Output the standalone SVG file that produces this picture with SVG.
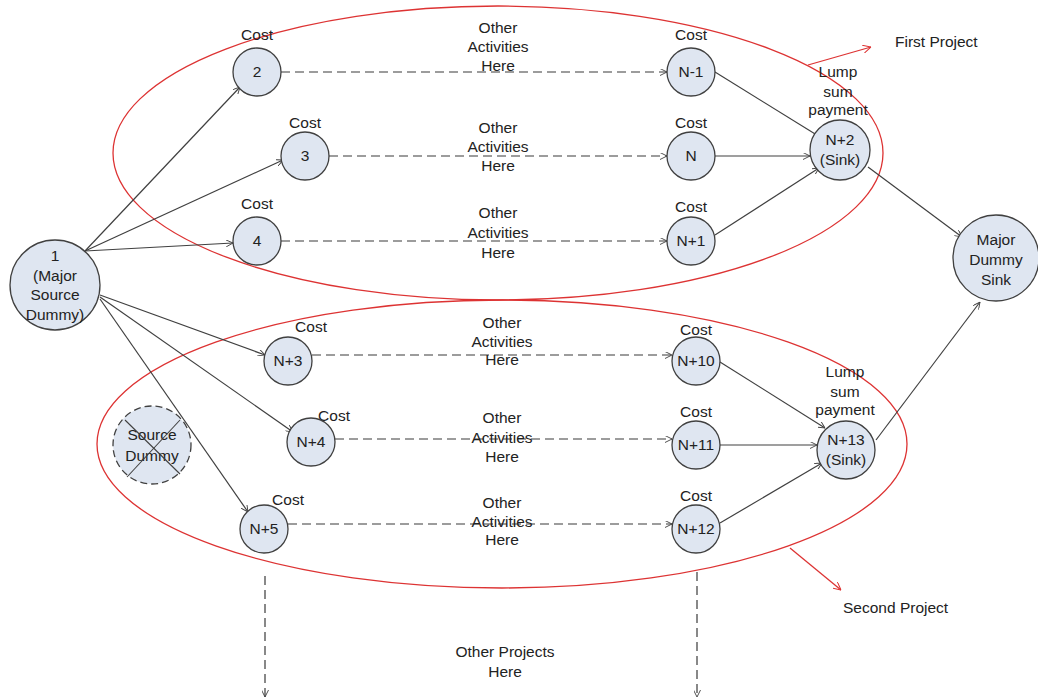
<svg xmlns="http://www.w3.org/2000/svg" width="1038" height="700" viewBox="0 0 1038 700">
<defs>
<marker id="arr" viewBox="0 0 10 10" refX="10" refY="5" markerWidth="7" markerHeight="7" orient="auto" markerUnits="userSpaceOnUse">
<path d="M0,0 L10,5 L0,10" fill="none" stroke="#404040" stroke-width="1.3"/>
</marker>
<marker id="arrR" viewBox="0 0 10 10" refX="10" refY="5" markerWidth="8" markerHeight="8" orient="auto" markerUnits="userSpaceOnUse">
<path d="M0,0 L10,5 L0,10" fill="none" stroke="#d33" stroke-width="1.3"/>
</marker>
</defs>
<style>
text{font-family:"Liberation Sans",Arial,sans-serif;font-size:15.5px;fill:#222;text-anchor:middle}
.n{fill:#dfe6f1;stroke:#404040;stroke-width:1.3}
.c{fill:none;stroke:#404040;stroke-width:1.2;marker-end:url(#arr)}
.d{fill:none;stroke:#3a3a3a;stroke-width:1.2;stroke-dasharray:9 5;marker-end:url(#arr)}
.r{fill:none;stroke:#d33;stroke-width:1.3}
.l{text-anchor:start}
</style>
<rect width="1038" height="700" fill="#fff"/>

<g id="projects">
<ellipse class="r" cx="498" cy="153" rx="385" ry="147"/>
<ellipse class="r" cx="502" cy="444" rx="405" ry="144"/>
<line class="r" x1="808" y1="65" x2="871" y2="47" marker-end="url(#arrR)"/>
<line class="r" x1="790" y1="548" x2="841" y2="590" marker-end="url(#arrR)"/>
<text class="l" x="895" y="47">First Project</text>
<text class="l" x="843" y="613">Second Project</text>
</g>

<g id="connectors">
<line class="c" x1="85" y1="251" x2="240" y2="87"/>
<line class="c" x1="85" y1="251" x2="283" y2="160"/>
<line class="c" x1="85" y1="251" x2="233" y2="243"/>
<line class="c" x1="100" y1="295" x2="265" y2="355"/>
<line class="c" x1="100" y1="297" x2="293" y2="432"/>
<line class="c" x1="100" y1="299" x2="248" y2="512"/>
<line class="d" x1="281" y1="72" x2="667" y2="72"/>
<line class="d" x1="329" y1="156" x2="667" y2="156"/>
<line class="d" x1="281" y1="241" x2="667" y2="241"/>
<line class="d" x1="312" y1="355" x2="672" y2="355"/>
<line class="d" x1="335" y1="439" x2="672" y2="439"/>
<line class="d" x1="288" y1="524" x2="672" y2="524"/>
<line class="c" x1="715" y1="72" x2="820" y2="137"/>
<line class="c" x1="715" y1="156" x2="810" y2="156"/>
<line class="c" x1="715" y1="235" x2="819" y2="168"/>
<line class="c" x1="868" y1="167" x2="962" y2="237"/>
<line class="c" x1="720" y1="362" x2="825" y2="428"/>
<line class="c" x1="720" y1="445" x2="817" y2="445"/>
<line class="c" x1="720" y1="523" x2="822" y2="463"/>
<line class="c" x1="876" y1="440" x2="980" y2="302"/>
<line class="d" x1="265" y1="576" x2="265" y2="697"/>
<line class="d" x1="697" y1="572" x2="697" y2="697"/>
</g>

<g id="labels">
<text x="257" y="40">Cost</text>
<text x="305" y="128">Cost</text>
<text x="257" y="209">Cost</text>
<text x="691" y="40">Cost</text>
<text x="691" y="128">Cost</text>
<text x="691" y="212">Cost</text>
<text x="311" y="332">Cost</text>
<text x="334" y="421">Cost</text>
<text x="288" y="505">Cost</text>
<text x="696" y="335">Cost</text>
<text x="696" y="417">Cost</text>
<text x="696" y="501">Cost</text>
<text x="498" y="33">Other</text><text x="498" y="52">Activities</text><text x="498" y="71">Here</text>
<text x="498" y="133">Other</text><text x="498" y="152">Activities</text><text x="498" y="171">Here</text>
<text x="498" y="218">Other</text><text x="498" y="238">Activities</text><text x="498" y="258">Here</text>
<text x="502" y="328">Other</text><text x="502" y="347">Activities</text><text x="502" y="365">Here</text>
<text x="502" y="423">Other</text><text x="502" y="443">Activities</text><text x="502" y="462">Here</text>
<text x="502" y="508">Other</text><text x="502" y="527">Activities</text><text x="502" y="545">Here</text>
<text x="838" y="77">Lump</text><text x="838" y="97">sum</text><text x="838" y="115">payment</text>
<text x="845" y="377">Lump</text><text x="845" y="397">sum</text><text x="845" y="415">payment</text>
<text x="505" y="657">Other Projects</text><text x="505" y="677">Here</text>
</g>

<g id="node1"><circle class="n" cx="55" cy="285" r="45"/><text x="55" y="261">1</text><text x="55" y="281">(Major</text><text x="55" y="300">Source</text><text x="55" y="320">Dummy)</text></g>
<g id="node2"><circle class="n" cx="257" cy="72" r="24"/><text x="257" y="77">2</text></g>
<g id="node3"><circle class="n" cx="305" cy="156" r="24"/><text x="305" y="161">3</text></g>
<g id="node4"><circle class="n" cx="257" cy="241" r="24"/><text x="257" y="246">4</text></g>
<g id="nodeN-1"><circle class="n" cx="691" cy="72" r="24"/><text x="691" y="77">N-1</text></g>
<g id="nodeN"><circle class="n" cx="691" cy="156" r="24"/><text x="691" y="161">N</text></g>
<g id="nodeN+1"><circle class="n" cx="691" cy="241" r="24"/><text x="691" y="246">N+1</text></g>
<g id="nodeN+2"><circle class="n" cx="840" cy="150" r="30"/><text x="840" y="145">N+2</text><text x="840" y="165">(Sink)</text></g>
<g id="majorSink"><circle class="n" cx="996" cy="258" r="43"/><text x="996" y="245">Major</text><text x="996" y="265">Dummy</text><text x="996" y="285">Sink</text></g>
<g id="nodeN+3"><circle class="n" cx="288" cy="361" r="24"/><text x="288" y="366">N+3</text></g>
<g id="nodeN+4"><circle class="n" cx="311" cy="442" r="24"/><text x="311" y="447">N+4</text></g>
<g id="nodeN+5"><circle class="n" cx="264" cy="529" r="24"/><text x="264" y="534">N+5</text></g>
<g id="nodeN+10"><circle class="n" cx="696" cy="361" r="24"/><text x="696" y="366">N+10</text></g>
<g id="nodeN+11"><circle class="n" cx="696" cy="445" r="24"/><text x="696" y="450">N+11</text></g>
<g id="nodeN+12"><circle class="n" cx="696" cy="529" r="24"/><text x="696" y="534">N+12</text></g>
<g id="nodeN+13"><circle class="n" cx="846" cy="450" r="29"/><text x="846" y="445">N+13</text><text x="846" y="465">(Sink)</text></g>
<g id="sourceDummy"><circle class="n" cx="152" cy="445" r="39" stroke-dasharray="7 4"/><text x="152" y="440">Source</text><text x="152" y="461">Dummy</text>
<line x1="125" y1="420" x2="180" y2="474" stroke="#404040" stroke-width="1.1"/><line x1="180" y1="420" x2="127" y2="477" stroke="#404040" stroke-width="1.1"/></g>
</svg>
